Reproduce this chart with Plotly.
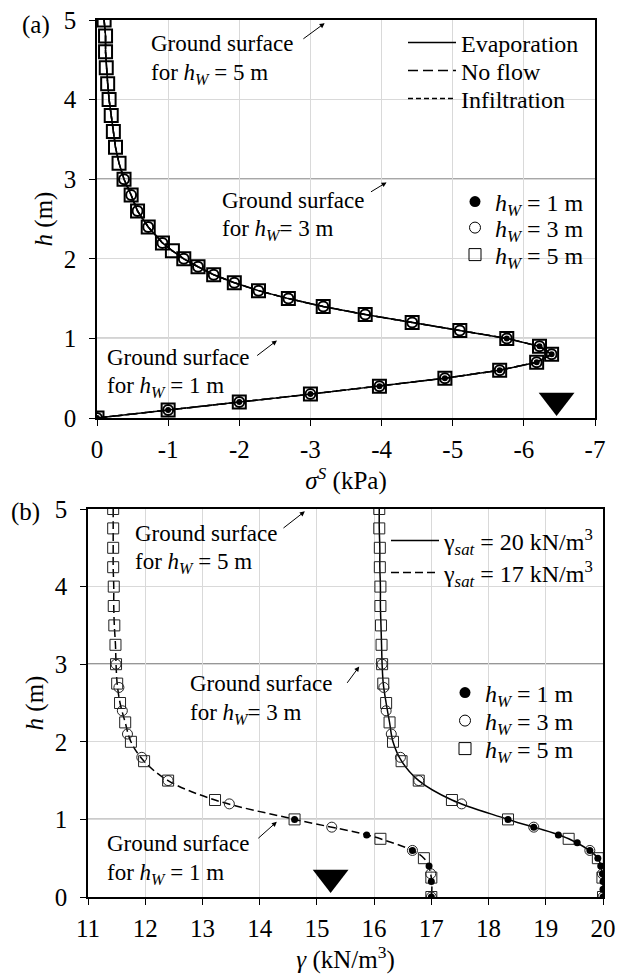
import plotly.graph_objects as go

# ---------------- Panel (a): suction stress sigma^S vs h ----------------
h_a5 = [5.0, 4.8, 4.6, 4.4, 4.2, 4.0, 3.8, 3.6, 3.4, 3.2, 3.0, 2.8, 2.6, 2.4, 2.2, 2.1,
        2.0, 1.9, 1.8, 1.7, 1.6, 1.5, 1.4, 1.3, 1.2, 1.1, 1.0, 0.9, 0.8, 0.7, 0.6, 0.5,
        0.4, 0.3, 0.2, 0.1, 0.0]
s_a5 = [-0.10, -0.12, -0.12, -0.13, -0.15, -0.17, -0.20, -0.23, -0.26, -0.31, -0.38,
        -0.48, -0.57, -0.72, -0.92, -1.06, -1.22, -1.42, -1.64, -1.93, -2.27, -2.69,
        -3.18, -3.77, -4.43, -5.10, -5.76, -6.22, -6.39, -6.18, -5.66, -4.89, -3.97,
        -3.00, -2.00, -1.00, 0.00]
h_a3 = [3.0, 2.8, 2.6, 2.4, 2.2, 2.0, 1.9, 1.8, 1.7, 1.6, 1.5, 1.4, 1.3, 1.2, 1.1, 1.0,
        0.9, 0.8, 0.7, 0.6, 0.5, 0.4, 0.3, 0.2, 0.1, 0.0]
s_a3 = [-0.38, -0.48, -0.57, -0.72, -0.92, -1.22, -1.42, -1.64, -1.93, -2.27, -2.69,
        -3.18, -3.77, -4.43, -5.10, -5.76, -6.22, -6.39, -6.18, -5.66, -4.89, -3.97,
        -3.00, -2.00, -1.00, 0.00]
h_a1 = [1.0, 0.9, 0.8, 0.7, 0.6, 0.5, 0.4, 0.3, 0.2, 0.1, 0.0]
s_a1 = [-5.76, -6.22, -6.39, -6.18, -5.66, -4.89, -3.97, -3.00, -2.00, -1.00, 0.00]
flow_names = ["Evaporation", "No flow", "Infiltration"]
a_xticks = [0, -1, -2, -3, -4, -5, -6, -7]
a_xticklabels = ["0", "-1", "-2", "-3", "-4", "-5", "-6", "-7"]
wt_a = (-6.46, 0.22)   # water table symbol

# ---------------- Panel (b): unit weight gamma vs h ----------------
h_b5 = [5.0, 4.75, 4.5, 4.25, 4.0, 3.75, 3.5, 3.25, 3.0, 2.75, 2.5, 2.25, 2.0, 1.75,
        1.5, 1.25, 1.0, 0.75, 0.5, 0.25, 0.0]
g20_b5 = [16.09, 16.09, 16.10, 16.10, 16.11, 16.11, 16.12, 16.13, 16.14, 16.16, 16.21,
          16.27, 16.33, 16.48, 16.78, 17.36, 18.34, 19.40, 19.91, 19.99, 20.00]
g17_b5 = [11.44, 11.44, 11.44, 11.44, 11.45, 11.45, 11.46, 11.48, 11.49, 11.51, 11.56,
          11.65, 11.75, 11.98, 12.40, 13.22, 14.61, 16.11, 16.87, 17.00, 17.00]
h_b3 = [3.0, 2.7, 2.4, 2.1, 1.8, 1.5, 1.2, 0.9, 0.6, 0.3, 0.0]
g20_b3 = [16.14, 16.17, 16.21, 16.30, 16.46, 16.78, 17.53, 18.79, 19.77, 19.99, 20.00]
g17_b3 = [11.49, 11.54, 11.60, 11.69, 11.94, 12.40, 13.47, 15.26, 16.67, 16.99, 17.00]
h_b1_20 = [1.0, 0.9, 0.8, 0.7, 0.6, 0.5, 0.4, 0.3, 0.2, 0.1, 0.0]
g20_b1 = [18.34, 18.79, 19.22, 19.55, 19.77, 19.91, 19.96, 19.99, 20.00, 20.00, 20.00]
h_b1_17 = [1.0, 0.8, 0.6, 0.4, 0.2, 0.0]
g17_b1 = [14.61, 15.87, 16.67, 16.96, 17.00, 17.00]
b_xticks = [11, 12, 13, 14, 15, 16, 17, 18, 19, 20]
wt_b = (15.24, 0.25)

ground_levels = [1, 3]
hw_names = ["<i>h</i><sub><i>W</i></sub> = 1 m", "<i>h</i><sub><i>W</i></sub> = 3 m",
            "<i>h</i><sub><i>W</i></sub> = 5 m"]
gamma_names = ["γ<sub><i>sat</i></sub> = 20 kN/m<sup>3</sup>",
               "γ<sub><i>sat</i></sub> = 17 kN/m<sup>3</sup>"]

FONT = "Liberation Serif"
TICK = 25
TXT = 23
LEG = 24

# page geometry (body margin is removed by the post script below)
OFF = 0
W, H = 617, 976
def fx(px):
    return (px - OFF) / W
def fy(py):
    return 1 - (py - OFF) / H

fig = go.Figure()
legend_layout = {}
_leg_count = [0]
def new_legend(x_left, y_center, itemwidth=30):
    _leg_count[0] += 1
    key = "legend" if _leg_count[0] == 1 else "legend%d" % _leg_count[0]
    legend_layout[key] = dict(x=fx(x_left), y=fy(y_center), xanchor="left", yanchor="middle",
                              bgcolor="rgba(0,0,0,0)", font=dict(family=FONT, size=LEG),
                              itemwidth=itemwidth, tracegroupgap=0)
    return key

# ---- panel (a) traces ----
dashes = ["solid", "10px,5px", "5px,3px"]
line_leg_a = [(403, 43), (403, 71), (403, 99)]
for name, d, pos in zip(flow_names, dashes, line_leg_a):
    fig.add_trace(go.Scatter(x=s_a5, y=h_a5, mode="lines", name=name,
                             line=dict(color="black", width=1.5, dash=d),
                             legend=new_legend(pos[0], pos[1], 48), xaxis="x", yaxis="y"))
fig.add_trace(go.Scatter(x=s_a5, y=h_a5, mode="markers", showlegend=False,
                         marker=dict(symbol="square-open", size=13, color="black",
                                     line=dict(width=2, color="black")),
                         xaxis="x", yaxis="y"))
fig.add_trace(go.Scatter(x=s_a3, y=h_a3, mode="markers", showlegend=False,
                         marker=dict(symbol="circle-open", size=10, color="black",
                                     line=dict(width=2, color="black")),
                         xaxis="x", yaxis="y"))
fig.add_trace(go.Scatter(x=s_a1, y=h_a1, mode="markers", showlegend=False,
                         marker=dict(symbol="circle", size=6, color="black"),
                         xaxis="x", yaxis="y"))
fig.add_trace(go.Scatter(x=[wt_a[0]], y=[wt_a[1]], mode="markers", showlegend=False,
                         marker=dict(symbol="triangle-down", size=31, color="black"),
                         xaxis="x", yaxis="y"))

leg_markers = [dict(symbol="circle", size=11, color="black"),
               dict(symbol="circle-open", size=11, color="black", line=dict(width=1)),
               dict(symbol="square-open", size=12, color="black", line=dict(width=1))]
mark_leg_a = [(455, 202), (455, 228), (455, 255)]
for nm, mk, pos in zip(hw_names, leg_markers, mark_leg_a):
    fig.add_trace(go.Scatter(x=[None], y=[None], mode="markers", name=nm, marker=mk,
                             legend=new_legend(pos[0], pos[1]), xaxis="x", yaxis="y"))

# ---- panel (b) traces ----
line_leg_b = [(386, 541), (386, 573)]
fig.add_trace(go.Scatter(x=g20_b5, y=h_b5, mode="lines", name=gamma_names[0],
                         line=dict(color="black", width=1.5, shape="spline"),
                         legend=new_legend(line_leg_b[0][0], line_leg_b[0][1], 48),
                         xaxis="x2", yaxis="y2"))
fig.add_trace(go.Scatter(x=g17_b5, y=h_b5, mode="lines", name=gamma_names[1],
                         line=dict(color="black", width=1.5, dash="8px,4px", shape="spline"),
                         legend=new_legend(line_leg_b[1][0], line_leg_b[1][1], 48),
                         xaxis="x2", yaxis="y2"))
for gx in (g20_b5, g17_b5):
    fig.add_trace(go.Scatter(x=gx, y=h_b5, mode="markers", showlegend=False,
                             marker=dict(symbol="square-open", size=11, color="#222222",
                                         line=dict(width=1)),
                             xaxis="x2", yaxis="y2"))
for gx in (g20_b3, g17_b3):
    fig.add_trace(go.Scatter(x=gx, y=h_b3, mode="markers", showlegend=False,
                             marker=dict(symbol="circle-open", size=10, color="#222222",
                                         line=dict(width=1)),
                             xaxis="x2", yaxis="y2"))
for gx, hy in ((g20_b1, h_b1_20), (g17_b1, h_b1_17)):
    fig.add_trace(go.Scatter(x=gx, y=hy, mode="markers", showlegend=False,
                             marker=dict(symbol="circle", size=7, color="black"),
                             xaxis="x2", yaxis="y2"))
fig.add_trace(go.Scatter(x=[wt_b[0]], y=[wt_b[1]], mode="markers", showlegend=False,
                         marker=dict(symbol="triangle-down", size=31, color="black"),
                         xaxis="x2", yaxis="y2"))
mark_leg_b = [(445, 693), (445, 721), (445, 749)]
for nm, mk, pos in zip(hw_names, leg_markers, mark_leg_b):
    fig.add_trace(go.Scatter(x=[None], y=[None], mode="markers", name=nm, marker=mk,
                             legend=new_legend(pos[0], pos[1]), xaxis="x2", yaxis="y2"))

# ground-surface lines
for lv in ground_levels:
    fig.add_shape(type="line", x0=0, x1=1, y0=lv, y1=lv, xref="x domain", yref="y",
                  line=dict(color="#505050", width=1.3), layer="below")
    fig.add_shape(type="line", x0=0, x1=1, y0=lv, y1=lv, xref="x2 domain", yref="y2",
                  line=dict(color="#303030", width=1.3), layer="below")

axis_common = dict(showgrid=True, gridcolor="#d9d9d9", gridwidth=1, zeroline=False,
                   showline=True, linecolor="black", linewidth=1.5, mirror=True,
                   ticks="outside", ticklen=6, tickcolor="black", automargin=False,
                   ticklabeloverflow="allow",
                   tickfont=dict(family=FONT, size=TICK, color="black"))

fig.update_layout(
    width=W, height=H, margin=dict(l=0, r=0, t=0, b=0, autoexpand=False),
    paper_bgcolor="white", plot_bgcolor="white",
    font=dict(family=FONT, size=TXT, color="black"),
    xaxis=dict(domain=[fx(97), fx(595)], anchor="y", range=[0, -7], tickvals=a_xticks,
               ticktext=a_xticklabels, ticklabelstandoff=2,
               title=dict(text="<i>σ</i><sup><i>S</i></sup> (kPa)", standoff=0,
                          font=dict(family=FONT, size=TICK)), **axis_common),
    yaxis=dict(domain=[fy(418), fy(20)], anchor="x", range=[0, 5], dtick=1,
               ticklabelstandoff=8,
               title=dict(text="<i>h</i> (m)", standoff=4, font=dict(family=FONT, size=TICK)),
               **axis_common),
    xaxis2=dict(domain=[fx(88), fx(603)], anchor="y2", range=[11, 20], tickvals=b_xticks,
                ticklabelstandoff=2,
                title=dict(text="<i>γ</i> (kN/m<sup>3</sup>)", standoff=0,
                           font=dict(family=FONT, size=TICK)), **axis_common),
    yaxis2=dict(domain=[fy(897), fy(509)], anchor="x2", range=[0, 5], dtick=1,
                ticklabelstandoff=8,
                title=dict(text="<i>h</i> (m)", standoff=4, font=dict(family=FONT, size=TICK)),
                **axis_common),
    **legend_layout,
)

# "Ground surface" labels: (n, tight '=' spacing, left px, line-1 centre, line-2 centre)
notes = [
    (5, False, 151, 43, 72),
    (3, True, 222, 200, 228),
    (1, False, 107, 357, 385),
    (5, False, 135, 533, 561),
    (3, True, 190, 683, 712),
    (1, False, 107, 843, 872),
]
for n, tight, xl, y1, y2 in notes:
    eq = "=" if tight else " ="
    line2 = "for <i>h</i><sub><i>W</i></sub>" + eq + " " + str(n) + " m"
    fig.add_annotation(text="Ground surface", xref="paper", yref="paper", x=fx(xl - 2),
                       y=fy(y1), xanchor="left", yanchor="middle", showarrow=False,
                       font=dict(family=FONT, size=TXT, color="black"))
    fig.add_annotation(text=line2, xref="paper", yref="paper", x=fx(xl - 2),
                       y=fy(y2 + 2), xanchor="left", yanchor="middle", showarrow=False,
                       font=dict(family=FONT, size=TXT, color="black"))

arrows_a = [((-3.20, 4.96), (-2.88, 4.75)), ((-4.07, 2.96), (-3.83, 2.83)),
            ((-2.53, 0.975), (-2.23, 0.77))]
arrows_b = [((14.79, 4.97), (14.39, 4.74)), ((15.74, 2.97), (15.51, 2.74)),
            ((14.30, 0.97), (13.95, 0.74))]
for (tip, tail) in arrows_a:
    fig.add_annotation(x=tip[0], y=tip[1], ax=tail[0], ay=tail[1], xref="x", yref="y",
                       axref="x", ayref="y", text="", showarrow=True, arrowhead=2,
                       arrowsize=1, arrowwidth=1, arrowcolor="black")
for (tip, tail) in arrows_b:
    fig.add_annotation(x=tip[0], y=tip[1], ax=tail[0], ay=tail[1], xref="x2", yref="y2",
                       axref="x2", ayref="y2", text="", showarrow=True, arrowhead=2,
                       arrowsize=1, arrowwidth=1, arrowcolor="black")

fig.add_annotation(text="(a)", xref="paper", yref="paper", x=fx(36), y=fy(25),
                   xanchor="center", yanchor="middle", showarrow=False,
                   font=dict(family=FONT, size=TICK))
fig.add_annotation(text="(b)", xref="paper", yref="paper", x=fx(25), y=fy(512),
                   xanchor="center", yanchor="middle", showarrow=False,
                   font=dict(family=FONT, size=TICK))

fig.write_html("out.html", config={"displayModeBar": False},
               post_script="document.body.style.margin='0';document.body.style.overflow='hidden';")
